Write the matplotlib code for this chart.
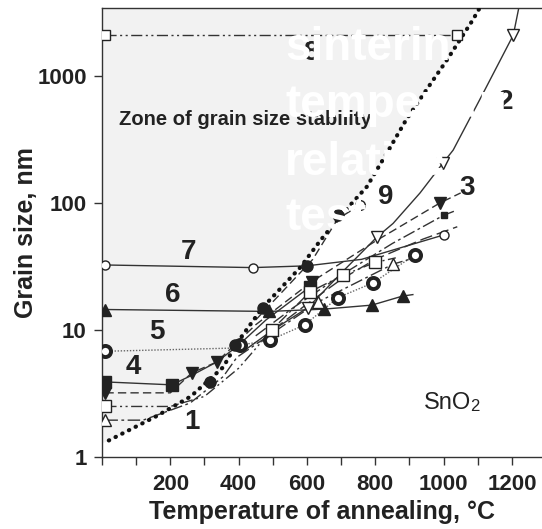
import matplotlib
matplotlib.use('Agg')
import matplotlib.pyplot as plt
from matplotlib.ticker import NullLocator

plt.rcParams['font.family'] = ['Liberation Sans', 'DejaVu Sans']

W, H = 542, 529

# ---------------- data ----------------
# sintering-temperature line (thick dots) and its filled-circle points
sint_T = [20, 160, 260, 355, 395, 470, 580, 640, 705, 775, 835, 890, 950, 1010, 1085, 1110]
sint_D = [1.35, 2.1, 3.0, 5.1, 7.9, 15, 31, 51, 83, 134, 250, 450, 780, 1340, 2750, 3600]
fc_T = [316, 389, 472, 600, 690]
fc_D = [3.9, 7.6, 15, 32, 80]

# curve 8 (open squares, top)
c8_T = [10, 1040]
c8_D = [2100, 2100]
# curve 7 (open circles)
c7_T = [10, 442, 600, 760, 1000]
c7_D = [32.5, 31, 32, 36, 56]
c7_mT = [10, 442, 1000]
c7_mD = [32.5, 31, 56]
# curve 6 (filled triangles)
c6_T = [10, 490, 650, 790, 880, 910]
c6_D = [14.5, 14, 14.6, 15.7, 18.5, 19]
c6_mT = [10, 490, 650, 790, 880]
c6_mD = [14.5, 14, 14.6, 15.7, 18.5]
# curve 5 (bold rings, thin dotted line)
c5_T = [10, 380, 404, 491, 594, 691, 793, 916]
c5_D = [6.8, 7.2, 7.6, 8.3, 11, 18, 23.5, 39]
c5_mT = [10, 404, 491, 594, 691, 793, 916]
c5_mD = [6.8, 7.6, 8.3, 11, 18, 23.5, 39]
# curve 4 (filled squares)
c4_T = [10, 204, 263, 336, 400, 480, 610]
c4_D = [3.9, 3.7, 4.4, 5.6, 7.6, 12, 22]
c4_mT = [10, 204, 610]
c4_mD = [3.9, 3.7, 22]
# curve 3 (filled down-triangles, dashed)
c3_T = [10, 200, 263, 336, 450, 614, 800, 989, 1050]
c3_D = [3.2, 3.2, 4.6, 5.6, 11, 24, 50, 100, 120]
c3_mT = [10, 263, 336, 614, 989]
c3_mD = [3.2, 4.6, 5.6, 24, 100]
# open-square curve (dash-dot-dot)
sq_T = [10, 200, 300, 400, 497, 609, 706, 799, 860]
sq_D = [2.5, 2.5, 3.0, 5.0, 10, 20, 27, 34, 37]
sq_mT = [10, 497, 609, 706, 799]
sq_mD = [2.5, 10, 20, 27, 34]
# curve 1 (open up-triangles, dash-dot)
c1_T = [10, 120, 258, 355, 395, 500, 632, 852, 900]
c1_D = [1.95, 1.95, 2.66, 4.3, 6.1, 9.5, 16.6, 33, 36]
c1_mT = [10, 632, 852]
c1_mD = [1.95, 16.6, 33]
# curve 2 (open down-triangles, solid)
c2_T = [420, 500, 603, 700, 805, 852, 931, 998, 1028, 1116, 1204, 1220]
c2_D = [7, 10, 15, 28, 54, 69, 120, 206, 261, 735, 2100, 3430]
c2_mT = [603, 805, 998, 1204]
c2_mD = [15, 54, 206, 2100]
# curve 9 (dashed)
c9_T = [450, 520, 617, 690, 755]
c9_D = [12, 19, 36, 75, 96]
# extra long-dash and dash-dot lines in the bundle
e_T = [500, 600, 700, 800, 940, 1040]
e_D = [10, 16, 25, 36, 52, 65]
dd_T = [450, 560, 700, 850, 1000, 1030]
dd_D = [9, 15, 27, 48, 80, 86]

x_ticks = list(range(0, 1201, 100))
x_labels = ['' if (t == 0 or t % 200) else str(t) for t in x_ticks]
y_ticks = [1, 10, 100, 1000]
y_labels = ['1', '10', '100', '1000']

curve_labels = ['1', '4', '5', '6', '7', '8', '9', '3', '2']
curve_label_px = [(192, 422), (133, 367), (157, 332), (173, 295), (188, 252),
                  (311, 53), (386, 197), (467, 188), (506, 102)]

# ---------------- figure ----------------
fig = plt.figure(figsize=(W / 100, H / 100), dpi=100)
ax = fig.add_axes([102 / W, 72 / H, 440 / W, 449 / H])
ax.set_yscale('log')
ymax = 3430
ax.set_xlim(0, 1288)
ax.set_ylim(1, ymax)

INK = '#222222'
LINE = '#333333'

# gray zone
ax.fill_between([0] + sint_T, [1.3] + sint_D, ymax, color='#f2f2f2', lw=0, zorder=0)

lw = 1.0
dashdotdot = (0, (8, 2.5, 1.5, 2.5, 1.5, 2.5))
dashdot = (0, (9, 2.5, 2, 2.5))
dashed = (0, (6, 3))
longdash = (0, (9, 3.5))

ax.plot(c8_T, c8_D, color=LINE, lw=lw, ls=dashdotdot, zorder=3)
ax.plot(c8_T, c8_D, 's', ms=7, mfc='white', mec=INK, mew=1, zorder=5)

ax.plot(c7_T, c7_D, color=LINE, lw=lw, ls='-', zorder=3)
ax.plot(c7_mT, c7_mD, 'o', ms=6.5, mfc='white', mec=INK, mew=1, zorder=5)

ax.plot(c6_T, c6_D, color=LINE, lw=lw, ls='-', zorder=3)
ax.plot(c6_mT, c6_mD, '^', ms=9, mfc=INK, mec=INK, zorder=5)

ax.plot(c5_T, c5_D, color='#666666', lw=1.0, ls=(0, (1, 1.2)), zorder=3)
ax.plot(c5_mT, c5_mD, 'o', ms=8, mfc='white', mec=INK, mew=2.8, zorder=5)

ax.plot(c4_T, c4_D, color=LINE, lw=lw, ls='-', zorder=3)
ax.plot(c4_mT, c4_mD, 's', ms=8, mfc=INK, mec=INK, zorder=5)

ax.plot(c3_T, c3_D, color=LINE, lw=lw, ls=dashed, zorder=3)
ax.plot(c3_mT, c3_mD, 'v', ms=9, mfc=INK, mec=INK, zorder=5)

ax.plot(sq_T, sq_D, color=LINE, lw=lw, ls=dashdotdot, zorder=3)
ax.plot(sq_mT, sq_mD, 's', ms=9, mfc='white', mec=INK, mew=1, zorder=5)

ax.plot(c1_T, c1_D, color=LINE, lw=lw, ls=dashdot, zorder=3)
ax.plot(c1_mT, c1_mD, '^', ms=9, mfc='white', mec=INK, mew=1, zorder=5)

ax.plot(c2_T, c2_D, color=LINE, lw=lw, ls='-', zorder=3)
ax.plot(c2_mT, c2_mD, 'v', ms=9, mfc='white', mec=INK, mew=1, zorder=5)

ax.plot(c9_T, c9_D, color=LINE, lw=lw, ls=dashed, zorder=3)
ax.plot([c9_T[-1]], [c9_D[-1]], 'o', ms=7, mfc='white', mec=INK, mew=1, zorder=5)

ax.plot(e_T, e_D, color=LINE, lw=lw, ls=longdash, zorder=3)
ax.plot(dd_T, dd_D, color=LINE, lw=lw, ls=dashdot, zorder=3)
ax.plot([dd_T[-2]], [dd_D[-2]], 's', ms=5, mfc=INK, mec=INK, zorder=5)

ax.plot(sint_T, sint_D, color='#111111', lw=3.0, ls=(0, (0.1, 1.7)),
        dash_capstyle='round', zorder=4)
ax.plot(fc_T, fc_D, 'o', ms=8, mfc=INK, mec=INK, zorder=5)

# axes styling
for s in ['left', 'bottom', 'top']:
    ax.spines[s].set_color(LINE)
    ax.spines[s].set_linewidth(1.0)
ax.spines['right'].set_visible(False)
ax.set_xticks(x_ticks)
ax.set_xticklabels(x_labels)
ax.set_yticks(y_ticks)
ax.set_yticklabels(y_labels)
ax.yaxis.set_minor_locator(NullLocator())
ax.tick_params(axis='both', direction='out', length=6, width=1, color=LINE,
               labelsize=16, labelcolor=INK)
ax.tick_params(axis='x', pad=6)
ax.tick_params(axis='y', pad=5)
for lab in ax.get_xticklabels() + ax.get_yticklabels():
    lab.set_fontweight('bold')

ax.set_xlabel('Temperature of annealing, °C', fontsize=18, fontweight='bold',
              color=INK, labelpad=4)
ax.set_ylabel('Grain size, nm', fontsize=18, fontweight='bold', color=INK)
ax.yaxis.set_label_coords((38 - 102) / 440, 0.5)


def px(x, y):
    return x / W, 1 - y / H


fig.text(*px(119, 125), 'Zone of grain size stability', fontsize=14.5,
         fontweight='bold', color=INK, ha='left', va='baseline', zorder=6)

for lab, (x, y) in zip(curve_labels, curve_label_px):
    fig.text(*px(x, y), lab, fontsize=20, fontweight='bold', color=INK,
             ha='center', va='center', zorder=6)

fig.text(*px(424, 409), 'SnO', fontsize=17, color=INK, ha='left', va='baseline')
fig.text(*px(470, 411), '2', fontsize=12, color=INK, ha='left', va='baseline')

# white overlay text (partially visible)
white_lines = ['sinterin', 'temperatu', 'relative', 'test']
white_base = [60, 117, 175, 230]
for t, yb in zip(white_lines, white_base):
    fig.text(*px(285, yb), t, fontsize=33, fontweight='bold', color='white',
             ha='left', va='baseline', zorder=50)

fig.savefig('out.png', dpi=100)
